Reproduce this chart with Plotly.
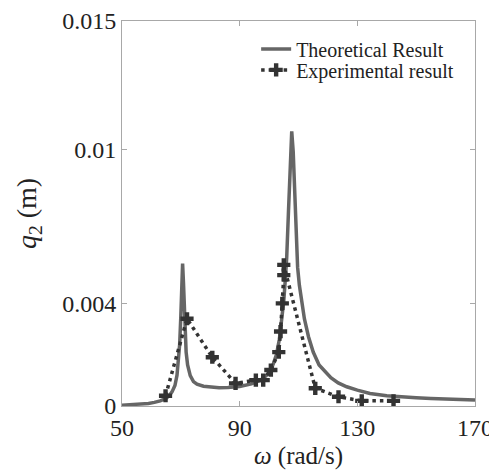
import plotly.graph_objects as go

# Theoretical result
theo_x = [50, 53, 56, 59, 61, 63, 65, 66, 67, 68, 68.7, 69.2, 69.6, 70.0, 70.3, 70.6, 70.9, 71.2,
          71.5, 71.8, 72.3, 73.2, 74.3, 75.5, 77.7, 80, 83, 86, 90, 94, 97, 99, 100.5, 101.5,
          102.5, 103.5, 104.3, 105.0, 105.5, 106.0, 106.6, 107.2, 107.7, 108.2, 108.7, 109.2,
          109.7, 110.3, 111.1, 112, 113.4, 115, 117, 118.5, 121, 123.5, 126.4, 130, 134.3, 140,
          145, 150, 155, 160, 165, 170]
theo_y = [0.00003, 0.00005, 0.00007, 0.0001, 0.00014, 0.0002, 0.0003, 0.0004, 0.00055, 0.0008,
          0.0012, 0.0017, 0.0024, 0.0035, 0.0047, 0.00555, 0.0048, 0.0036, 0.0027, 0.0021,
          0.0016, 0.00118, 0.00095, 0.00085, 0.00077, 0.00073, 0.00071, 0.00072, 0.00076,
          0.00086, 0.00100, 0.00118, 0.0014, 0.00166, 0.0020, 0.0026, 0.0033, 0.0041, 0.0049,
          0.0058, 0.0076, 0.0096, 0.0107, 0.0099, 0.0082, 0.0065, 0.0054, 0.0047, 0.0040,
          0.0034, 0.0027, 0.0021, 0.0016, 0.0014, 0.0011, 0.0009, 0.00075, 0.00062, 0.00049,
          0.0004, 0.00035, 0.00032, 0.00029, 0.00027, 0.00025, 0.00023]

# Experimental result
exp_x = [64.8, 72.1, 80.7, 88.6, 95.5, 98.0, 100.6, 103.3, 103.9, 104.5, 105.0, 105.0,
         115.7, 123.6, 131.5, 142.3]
exp_y = [0.0004, 0.0034, 0.0019, 0.00088, 0.00101, 0.00101, 0.0014, 0.0021, 0.0029, 0.0040,
         0.0051, 0.0055, 0.00069, 0.00036, 0.0002, 0.0002]

x_ticks = [50, 90, 130, 170]
y_ticks = [0, 0.004, 0.01, 0.015]
y_ticktext = ["0", "0.004", "0.01", "0.015"]

FONT = "Liberation Serif"

fig = go.Figure()
fig.add_trace(go.Scatter(
    x=theo_x, y=theo_y, mode="lines", name="Theoretical Result", legend="legend",
    line=dict(color="#666666", width=3.5),
))
fig.add_trace(go.Scatter(
    x=exp_x, y=exp_y, mode="lines+markers", name="Experimental result", legend="legend2",
    line=dict(color="#333333", width=3.5, dash="3.5px,4px"),
    marker=dict(symbol="cross", size=11, color="#333333"),
))

axis_common = dict(
    showline=True, mirror="ticks", linecolor="#a8a8a8", linewidth=1,
    ticks="inside", ticklen=5, tickcolor="#a8a8a8", showgrid=False, zeroline=False,
    tickfont=dict(family=FONT, size=24, color="#222222"), automargin=False,
)

leg_common = dict(xanchor="left", yanchor="middle", bgcolor="rgba(0,0,0,0)",
                  font=dict(family=FONT, size=20, color="#222222"), itemwidth=30,
                  borderwidth=0)

fig.update_layout(
    width=489, height=468,
    margin=dict(l=114, r=22, t=13, b=70),
    paper_bgcolor="white", plot_bgcolor="white",
    font=dict(family=FONT, color="#222222"),
    xaxis=dict(range=[50, 170], tickvals=x_ticks,
               title=dict(text="<i>ω</i> (rad/s)", font=dict(family=FONT, size=25), standoff=6),
               **axis_common),
    yaxis=dict(range=[0, 0.015], tickvals=y_ticks, ticktext=y_ticktext,
               title=dict(text="<i>q</i><sub>2</sub> (m)", font=dict(family=FONT, size=28), standoff=17),
               **axis_common),
    legend=dict(x=0.38, y=0.927, **leg_common),
    legend2=dict(x=0.38, y=0.873, **leg_common),
    showlegend=True,
)

fig.write_html("out.html")
